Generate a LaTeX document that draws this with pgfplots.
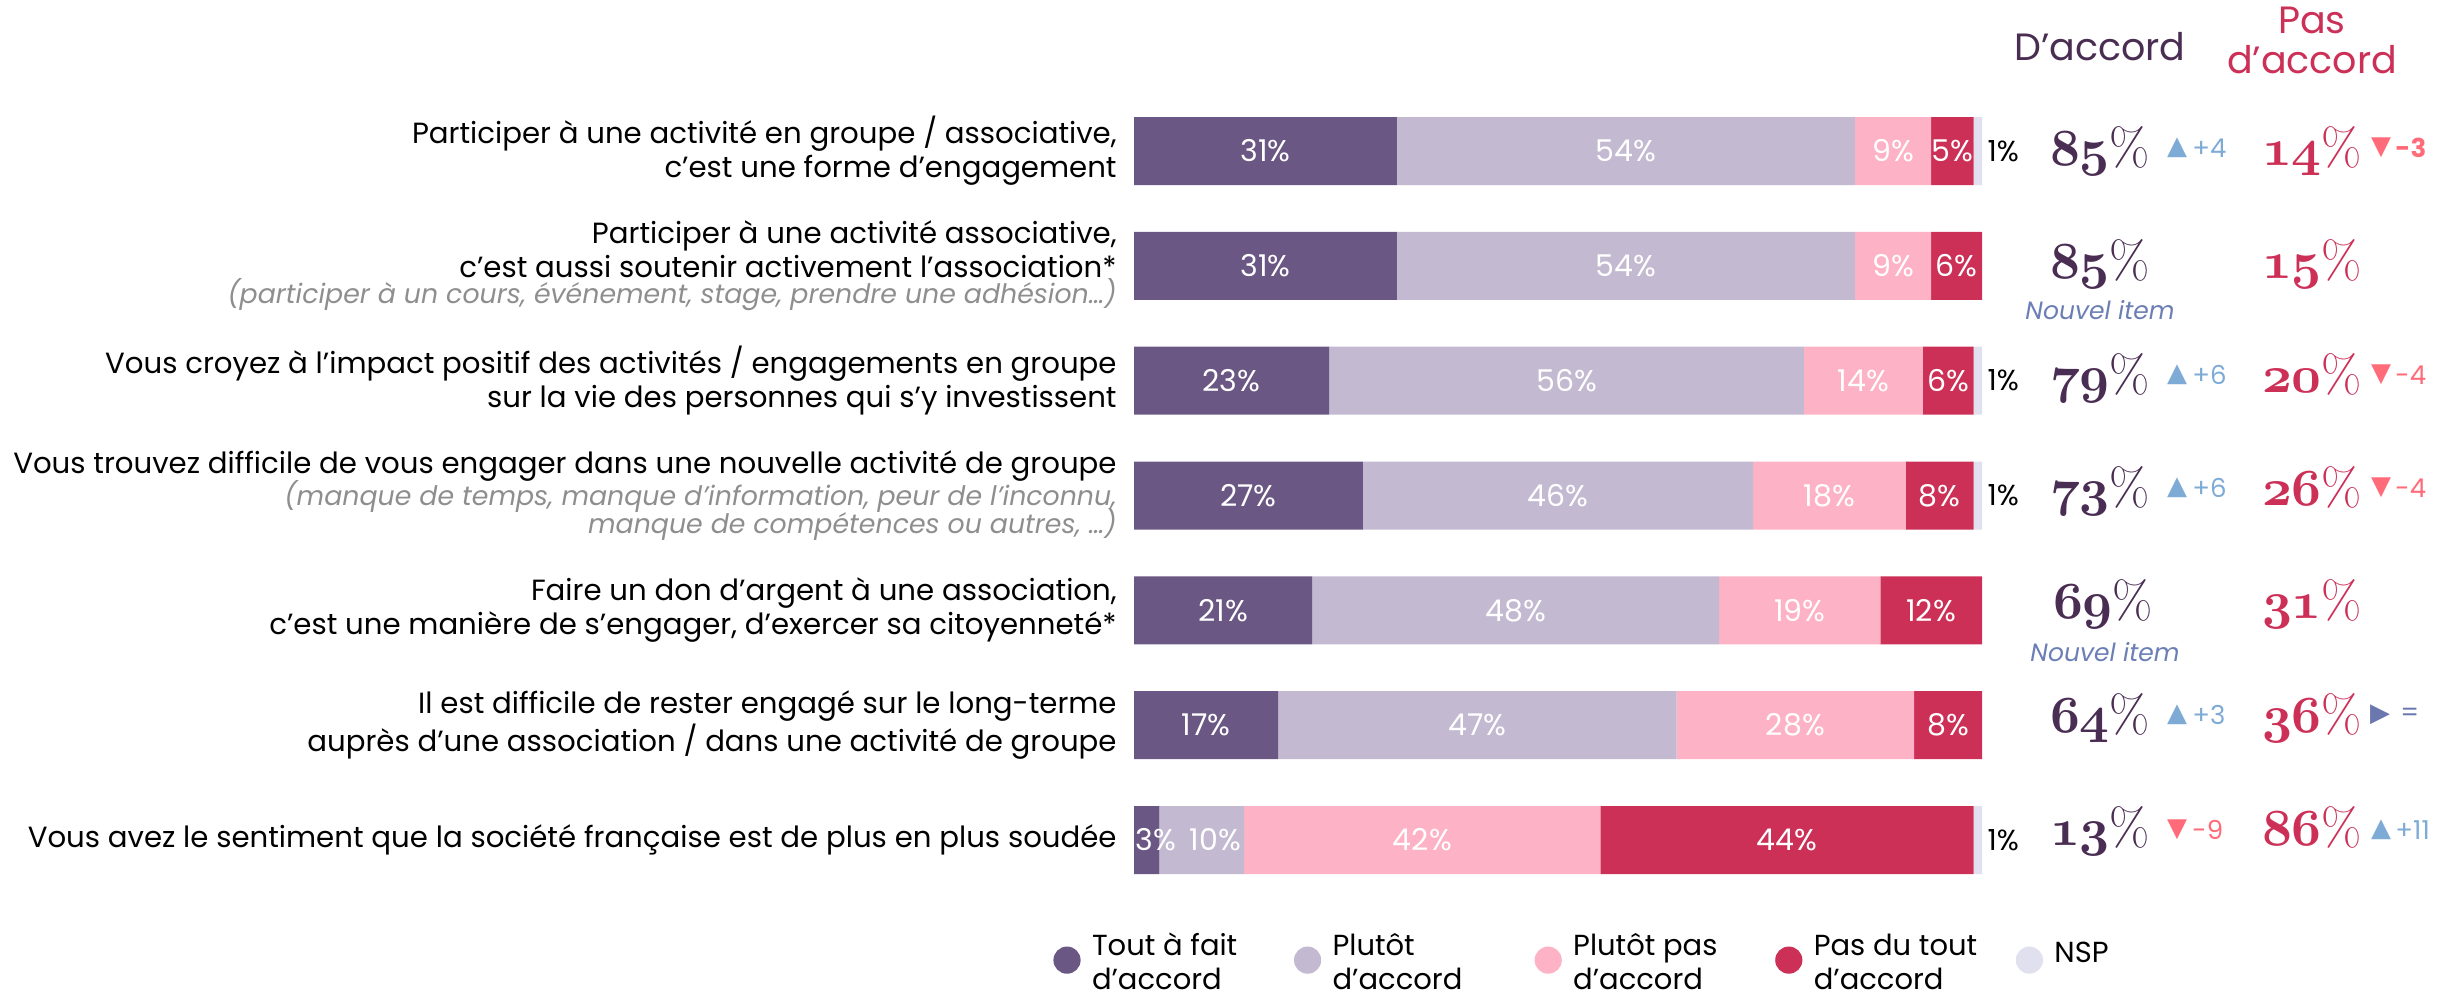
\documentclass[border=0pt]{standalone}
\usepackage{pgfplots}
\pgfplotsset{compat=1.18}
\usepackage{fontspec}
\setmainfont{Poppins}
\newfontfamily\sym{DejaVu Sans}
\newfontfamily\lmr{Latin Modern Roman}
\DeclareFontFamily{OML}{xcmm}{\skewchar\font=127}
\DeclareFontShape{OML}{xcmm}{m}{it}{<->cmmib10}{}
\newcommand\osn[1]{{\fontencoding{OML}\fontfamily{xcmm}\fontseries{m}\fontshape{it}\selectfont #1}}
\newcommand\pc[1]{\osn{#1}{\lmr\%}}
\newcommand\lab{\fontsize{14.6}{17}\selectfont}
\newcommand\leg{\fontsize{14.5}{17}\selectfont}
\newcommand\sub{\fontsize{13.4}{14}\selectfont\itshape\color{subgray}}
\newcommand\bigfont{\fontsize{26}{26}\selectfont}
\definecolor{c1}{HTML}{6A5784}
\definecolor{c2}{HTML}{C3B9D1}
\definecolor{c3}{HTML}{FDB3C5}
\definecolor{c4}{HTML}{CC3057}
\definecolor{c5}{HTML}{E1E0EE}
\definecolor{numdark}{HTML}{4A2D52}
\definecolor{upblue}{HTML}{7EABD6}
\definecolor{downred}{HTML}{FF6B78}
\definecolor{eqblue}{HTML}{6B78B0}
\definecolor{subgray}{HTML}{8E8E8E}
\definecolor{newitem}{HTML}{6B7EB5}
\pgfplotsset{lc/.style={legend image code/.code={\fill[#1] (6.8pt,0pt) circle (6.8pt);}}}
\begin{document}
\begin{tikzpicture}[bl/.style={text=white, font=\fontsize{15}{15}\selectfont}]
\path[use as bounding box] (0,0) rectangle (1220pt,-496.5pt);
\begin{axis}[
  at={(567pt,-448.7pt)}, anchor=south west,
  width=424pt, height=401.9pt, scale only axis,
  xbar stacked, bar width=34pt,
  xmin=0, xmax=100, ymin=0.5, ymax=7.5, y dir=reverse,
  enlargelimits=false,
  axis line style={draw=none}, tick style={draw=none},
  xtick=\empty, ytick={1,...,7},
  yticklabels={
    {Participer à une activité en groupe / associative,\\c'est une forme d'engagement},
    {Participer à une activité associative,\\c'est aussi soutenir activement l'association*\\[-4pt]{\sub (participer à un cours, événement, stage, prendre une adhésion…)}},
    {Vous croyez à l'impact positif des activités / engagements en groupe\\sur la vie des personnes qui s'y investissent},
    {Vous trouvez difficile de vous engager dans une nouvelle activité de groupe\\[-1pt]{\sub (manque de temps, manque d’information, peur de l’inconnu,}\\[-3pt]{\sub manque de compétences ou autres, …)}},
    {Faire un don d'argent à une association,\\c'est une manière de s'engager, d'exercer sa citoyenneté*},
    {Il est difficile de rester engagé sur le long-terme\\auprès d'une association / dans une activité de groupe},
    {Vous avez le sentiment que la société française est de plus en plus soudée}},
  yticklabel style={anchor=east, align=right, inner sep=0pt, xshift=-8.5pt, font=\lab, text=black},
  clip=false,
  legend columns=5, legend cell align=left,
  legend style={at={(axis description cs:-0.0955,-0.078)}, anchor=west, draw=none, fill=none,
    inner sep=0pt, nodes={inner sep=0pt}, font=\leg,
    /tikz/every odd column/.style={column sep=5.7pt}},
]
\addplot[fill=c1, draw=none, lc=c1] coordinates {(31,1) (31,2) (23,3) (27,4) (21,5) (17,6) (3,7)};
\addplot[fill=c2, draw=none, lc=c2] coordinates {(54,1) (54,2) (56,3) (46,4) (48,5) (47,6) (10,7)};
\addplot[fill=c3, draw=none, lc=c3] coordinates {(9,1) (9,2) (14,3) (18,4) (19,5) (28,6) (42,7)};
\addplot[fill=c4, draw=none, lc=c4] coordinates {(5,1) (6,2) (6,3) (8,4) (12,5) (8,6) (44,7)};
\addplot[fill=c5, draw=none, lc=c5] coordinates {(1,1) (0,2) (1,3) (1,4) (0,5) (0,6) (1,7)};
\addlegendentry{\raisebox{7.5pt}{\parbox[c]{101pt}{\leg Tout à fait\\d'accord}}}
\addlegendentry{\raisebox{7.5pt}{\parbox[c]{101pt}{\leg Plutôt\\d'accord}}}
\addlegendentry{\raisebox{7.5pt}{\parbox[c]{101pt}{\leg Plutôt pas\\d'accord}}}
\addlegendentry{\raisebox{7.5pt}{\parbox[c]{101pt}{\leg Pas du tout\\d'accord}}}
\addlegendentry{\raisebox{7.5pt}{\parbox[c]{60pt}{\leg NSP}}}
% anchor points for the labels, drawn after the axis so they sit on the bars
\coordinate (a1) at (axis cs:15.5,1); \coordinate (b1) at (axis cs:58,1);
\coordinate (c1) at (axis cs:89.5,1); \coordinate (d1) at (axis cs:96.5,1);
\coordinate (a2) at (axis cs:15.5,2); \coordinate (b2) at (axis cs:58,2);
\coordinate (c2) at (axis cs:89.5,2); \coordinate (d2) at (axis cs:97,2);
\coordinate (a3) at (axis cs:11.5,3); \coordinate (b3) at (axis cs:51,3);
\coordinate (c3) at (axis cs:86,3);   \coordinate (d3) at (axis cs:96,3);
\coordinate (a4) at (axis cs:13.5,4); \coordinate (b4) at (axis cs:50,4);
\coordinate (c4) at (axis cs:82,4);   \coordinate (d4) at (axis cs:95,4);
\coordinate (a5) at (axis cs:10.5,5); \coordinate (b5) at (axis cs:45,5);
\coordinate (c5) at (axis cs:78.5,5); \coordinate (d5) at (axis cs:94,5);
\coordinate (a6) at (axis cs:8.5,6);  \coordinate (b6) at (axis cs:40.5,6);
\coordinate (c6) at (axis cs:78,6);   \coordinate (d6) at (axis cs:96,6);
\coordinate (a7) at (axis cs:2.6,7);  \coordinate (b7) at (axis cs:9.6,7);
\coordinate (c7) at (axis cs:34,7);   \coordinate (d7) at (axis cs:77,7);
\coordinate (n1) at (axis cs:102.5,1); \coordinate (n3) at (axis cs:102.5,3);
\coordinate (n4) at (axis cs:102.5,4); \coordinate (n7) at (axis cs:102.5,7);
\end{axis}
\node[bl] at (a1) {31\%}; \node[bl] at (b1) {54\%}; \node[bl] at (c1) {9\%};  \node[bl] at (d1) {5\%};
\node[bl] at (a2) {31\%}; \node[bl] at (b2) {54\%}; \node[bl] at (c2) {9\%};  \node[bl] at (d2) {6\%};
\node[bl] at (a3) {23\%}; \node[bl] at (b3) {56\%}; \node[bl] at (c3) {14\%}; \node[bl] at (d3) {6\%};
\node[bl] at (a4) {27\%}; \node[bl] at (b4) {46\%}; \node[bl] at (c4) {18\%}; \node[bl] at (d4) {8\%};
\node[bl] at (a5) {21\%}; \node[bl] at (b5) {48\%}; \node[bl] at (c5) {19\%}; \node[bl] at (d5) {12\%};
\node[bl] at (a6) {17\%}; \node[bl] at (b6) {47\%}; \node[bl] at (c6) {28\%}; \node[bl] at (d6) {8\%};
\node[bl] at (a7) {3\%};  \node[bl] at (b7) {10\%}; \node[bl] at (c7) {42\%}; \node[bl] at (d7) {44\%};
\foreach \p in {n1,n3,n4,n7} {\node[font=\fontsize{14.5}{14.5}\selectfont] at (\p) {1\%};}
\begin{scope}[x=0.5pt,y=-0.5pt,
  num/.style={anchor=base, text=numdark, font=\bigfont, inner sep=0pt},
  neg/.style={anchor=base, text=c4, font=\bigfont, inner sep=0pt},
  tri/.style={font=\sym\fontsize{13}{13}\selectfont, inner sep=0pt},
  dt/.style={anchor=west, font=\fontsize{13}{13}\selectfont, inner sep=0pt},
  ni/.style={text=newitem, font=\fontsize{12.5}{12.5}\selectfont\itshape, inner sep=0pt}]
\node[anchor=base, text=numdark, font=\fontsize{19}{19}\selectfont] at (2100,60) {D'accord};
\node[anchor=base, text=c4, font=\fontsize{19}{19}\selectfont] at (2312,33) {Pas};
\node[anchor=base, text=c4, font=\fontsize{19}{19}\selectfont] at (2312,73) {d'accord};
% row 1
\node[num] at (2100,165) {\pc{85}}; \node[neg] at (2312,165) {\pc{14}};
\node[tri, text=upblue] at (2177,148) {▲}; \node[dt, text=upblue] at (2192,148) {+4};
\node[tri, text=downred] at (2381,148) {▼}; \node[dt, text=downred, font=\fontsize{13}{13}\selectfont\bfseries] at (2395,148) {-3};
% row 2
\node[num] at (2100,278) {\pc{85}}; \node[neg] at (2312,278) {\pc{15}};
\node[ni] at (2100,310) {Nouvel item};
% row 3
\node[num] at (2100,392) {\pc{79}}; \node[neg] at (2312,392) {\pc{20}};
\node[tri, text=upblue] at (2177,375) {▲}; \node[dt, text=upblue] at (2192,375) {+6};
\node[tri, text=downred] at (2381,375) {▼}; \node[dt, text=downred] at (2395,375) {-4};
% row 4
\node[num] at (2100,505) {\pc{73}}; \node[neg] at (2312,505) {\pc{26}};
\node[tri, text=upblue] at (2177,488) {▲}; \node[dt, text=upblue] at (2192,488) {+6};
\node[tri, text=downred] at (2381,488) {▼}; \node[dt, text=downred] at (2395,488) {-4};
% row 5
\node[num] at (2103,618) {\pc{69}}; \node[neg] at (2312,618) {\pc{31}};
\node[ni] at (2105,652) {Nouvel item};
% row 6
\node[num] at (2100,732) {\pc{64}}; \node[neg] at (2312,732) {\pc{36}};
\node[tri, text=upblue] at (2177,715) {▲}; \node[dt, text=upblue] at (2192,715) {+3};
\node[tri, text=eqblue] at (2380,715) {▶}; \node[dt, text=eqblue] at (2400,715) {=};
% row 7
\node[num] at (2100,845) {\pc{13}}; \node[neg] at (2312,845) {\pc{86}};
\node[tri, text=downred] at (2177,830) {▼}; \node[dt, text=downred] at (2192,830) {-9};
\node[tri, text=upblue] at (2381,830) {▲}; \node[dt, text=upblue] at (2395,830) {+11};
\end{scope}
\end{tikzpicture}
\end{document}
